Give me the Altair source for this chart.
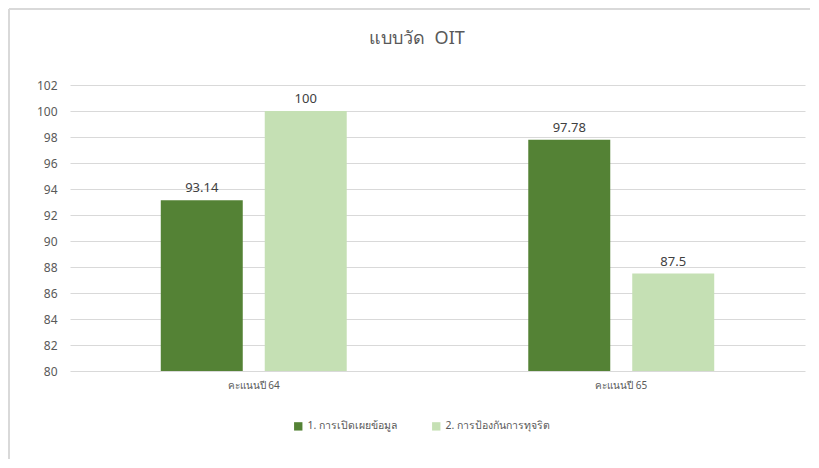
import altair as alt
import pandas as pd

categories = ["คะแนนปี 64", "คะแนนปี 65"]
series = ["1. การเปิดเผยข้อมูล", "2. การป้องกันการทุจริต"]
values_s1 = [93.14, 97.78]
values_s2 = [100, 87.5]
colors = ["#548235", "#C5E0B4"]
y_ticks = list(range(80, 103, 2))
title_text = "แบบวัด\u00a0 OIT"

rows = []
for i, c in enumerate(categories):
    rows.append({"cat": c, "series": series[0], "value": values_s1[i]})
    rows.append({"cat": c, "series": series[1], "value": values_s2[i]})
df = pd.DataFrame(rows)

FONT = "Noto Sans"

x = alt.X("cat:N", sort=categories, title=None,
          scale=alt.Scale(paddingInner=0.494, paddingOuter=0.247),
          axis=alt.Axis(labelAngle=0, labelFontSize=10, labelColor="#595959",
                        labelFont=FONT, ticks=False, domain=False, labelPadding=9))
xo = alt.XOffset("series:N", sort=series,
                 scale=alt.Scale(paddingInner=0.2115, paddingOuter=0))
y = alt.Y("value:Q", title=None,
          scale=alt.Scale(domain=[80, 102], zero=False, nice=False),
          axis=alt.Axis(values=y_ticks, labelFontSize=12, labelColor="#595959",
                        labelFont=FONT, ticks=False, domain=False, labelPadding=13,
                        labelOverlap=False, gridColor="#D9D9D9", gridWidth=1))

bars = alt.Chart(df).mark_bar().encode(
    x=x, xOffset=xo, y=y, y2=alt.datum(80),
    color=alt.Color("series:N", sort=series,
                    scale=alt.Scale(domain=series, range=colors),
                    legend=alt.Legend(title=None, orient="none", direction="horizontal",
                                      legendX=223, legendY=336, symbolType="square",
                                      symbolSize=70, labelFontSize=10.5, labelColor="#595959",
                                      labelFont=FONT, columnPadding=33, symbolOffset=0)),
)

labels = alt.Chart(df).mark_text(dy=-12, fontSize=13, color="#404040", font=FONT).encode(
    x=x, xOffset=xo, y=y, text=alt.Text("value:Q"),
)

one = pd.DataFrame({"a": [0]})
border_top = alt.Chart(one).mark_rule(color="#D9D9D9", strokeWidth=2).encode(
    x=alt.value(-61), x2=alt.value(740), y=alt.value(-76))
border_left = alt.Chart(one).mark_rule(color="#D9D9D9", strokeWidth=2).encode(
    x=alt.value(-61), y=alt.value(-76), y2=alt.value(374))
title = alt.Chart(one).mark_text(fontSize=18, color="#595959", font=FONT,
                                 align="center", baseline="alphabetic").encode(
    x=alt.value(347), y=alt.value(-41), text=alt.value(title_text))

chart = alt.layer(border_top, border_left, title, bars, labels).properties(
    width=735, height=286,
    padding=0,
).configure_view(stroke=None)

chart.save("out.html", embed_options={"renderer": "svg", "actions": False})
